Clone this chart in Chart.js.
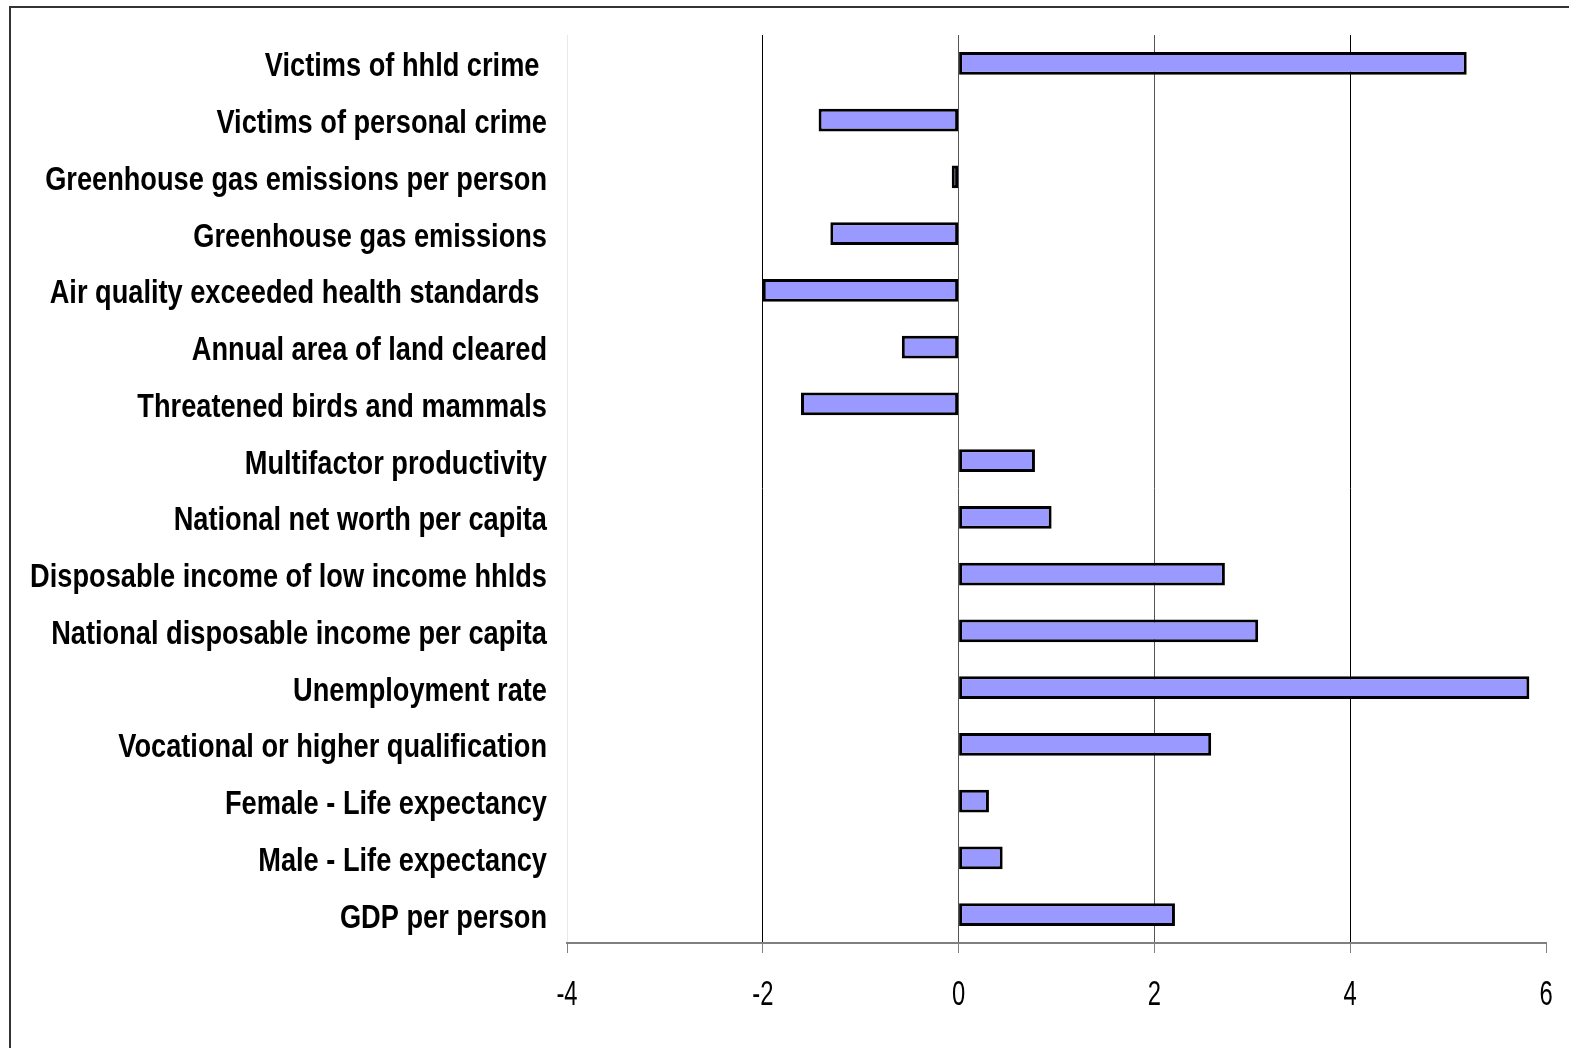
<!DOCTYPE html>
<html>
<head>
<meta charset="utf-8">
<script src="https://cdn.jsdelivr.net/npm/chart.js@4/dist/chart.umd.min.js"></script>
<style>
html,body{margin:0;padding:0;background:#fff;overflow:hidden;}
#wrap{position:absolute;left:0;top:0;width:1569px;height:1048px;}
</style>
</head>
<body>
<div id="wrap"><canvas id="c" width="1569" height="1048"></canvas></div>
<script>
const categories = [
  "Victims of hhld crime ",
  "Victims of personal crime",
  "Greenhouse gas emissions per person",
  "Greenhouse gas emissions",
  "Air quality exceeded health standards ",
  "Annual area of land cleared",
  "Threatened birds and mammals",
  "Multifactor productivity",
  "National net worth per capita",
  "Disposable income of low income hhlds",
  "National disposable income per capita",
  "Unemployment rate",
  "Vocational or higher qualification",
  "Female - Life expectancy",
  "Male - Life expectancy",
  "GDP per person"
];
const values = [5.19, -1.43, -0.07, -1.31, -2.0, -0.58, -1.61, 0.78, 0.95, 2.72, 3.06, 5.83, 2.58, 0.31, 0.45, 2.21];
const xTicks = [-4, -2, 0, 2, 4, 6];

const FONT_FAMILY = '"Liberation Sans", Arimo, Arial, sans-serif';

const framePlugin = {
  id: 'frame',
  beforeDraw(chart) {
    const ctx = chart.ctx;
    ctx.save();
    ctx.fillStyle = '#fff';
    ctx.fillRect(0, 0, chart.width, chart.height);
    ctx.strokeStyle = '#333';
    ctx.lineWidth = 2;
    ctx.beginPath();
    ctx.moveTo(10, chart.height);
    ctx.lineTo(10, 7);
    ctx.lineTo(chart.width, 7);
    ctx.stroke();
    ctx.restore();
  }
};

// Draws the axis labels in a narrow (horizontally condensed) face,
// positioned through the chart's own scales.
const narrowLabels = {
  id: 'narrowLabels',
  afterDraw(chart) {
    const ctx = chart.ctx;
    const ys = chart.scales.y;
    const xs = chart.scales.x;
    ctx.save();
    ctx.fillStyle = '#000';
    ctx.textBaseline = 'alphabetic';
    // category labels
    ctx.font = 'bold 34px ' + FONT_FAMILY;
    ctx.textAlign = 'right';
    const rightX = ys.right - 20;
    ys.ticks.forEach((t, i) => {
      const y = ys.getPixelForTick(i);
      const label = ys.getLabelForValue(t.value);
      ctx.save();
      ctx.translate(rightX, y + 13);
      ctx.scale(0.80, 1);
      ctx.fillText(label, 0, 0);
      ctx.restore();
    });
    // value tick labels
    ctx.font = '35px ' + FONT_FAMILY;
    ctx.textAlign = 'center';
    xs.ticks.forEach((t) => {
      const x = xs.getPixelForValue(t.value);
      ctx.save();
      ctx.translate(x, xs.top + 62);
      ctx.scale(0.68, 1);
      ctx.fillText(String(t.value), 0, 0);
      ctx.restore();
    });
    ctx.restore();
  }
};

const gridColors = { '-4': '#e8e8e8', '-2': '#000', '0': '#555', '2': '#555', '4': '#000', '6': 'rgba(0,0,0,0)' };

new Chart(document.getElementById('c'), {
  type: 'bar',
  data: {
    labels: categories,
    datasets: [{
      data: values,
      backgroundColor: '#9999ff',
      borderColor: '#000',
      borderWidth: 3,
      borderSkipped: false,
      barPercentage: 0.405,
      categoryPercentage: 1.0
    }]
  },
  options: {
    indexAxis: 'y',
    responsive: false,
    animation: false,
    devicePixelRatio: 1,
    layout: { padding: { left: 0, top: 35, right: 23, bottom: 0 } },
    plugins: { legend: { display: false }, tooltip: { enabled: false } },
    scales: {
      x: {
        type: 'linear',
        min: -4,
        max: 6,
        afterBuildTicks(scale) { scale.ticks = xTicks.map(v => ({ value: v })); },
        afterFit(scale) { scale.height = 105; },
        grid: {
          color(ctx) {
            const v = ctx.tick ? ctx.tick.value : null;
            return gridColors[String(v)] || '#000';
          },
          lineWidth: 1,
          tickColor: '#808080',
          tickLength: 10,
          drawTicks: true
        },
        border: { display: true, color: '#808080', width: 2 },
        ticks: { display: false }
      },
      y: {
        afterFit(scale) { scale.width = 567; },
        grid: { display: false },
        border: { display: false },
        ticks: { display: false, autoSkip: false }
      }
    }
  },
  plugins: [framePlugin, narrowLabels]
});
</script>
</body>
</html>
